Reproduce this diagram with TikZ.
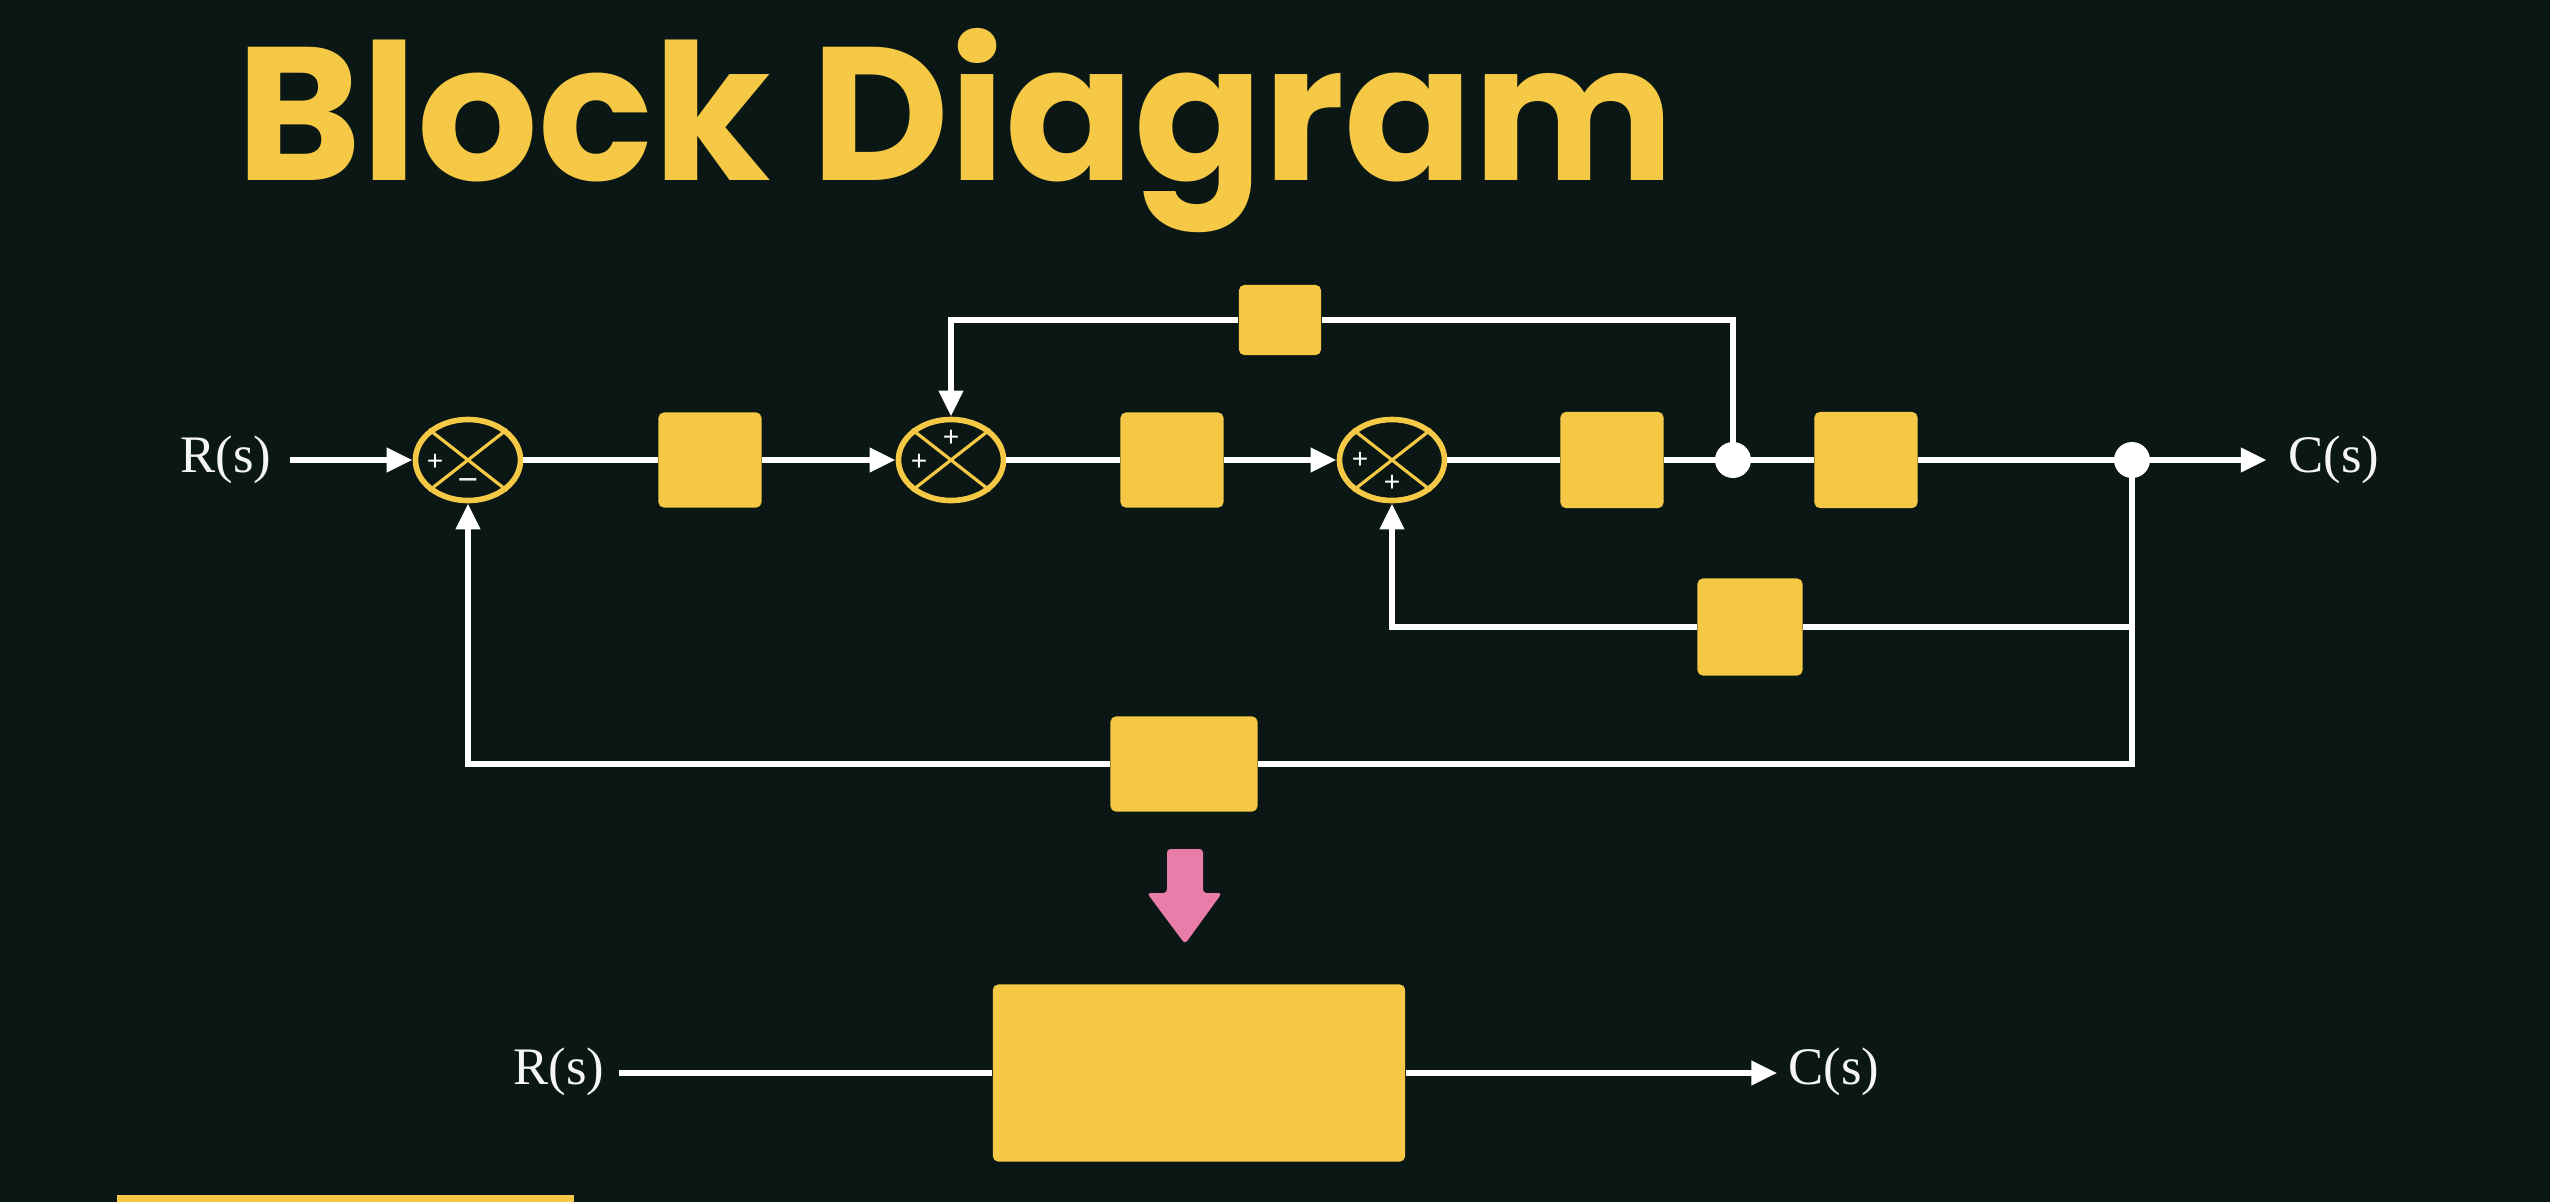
\documentclass[tikz,border=0pt]{standalone}
\usepackage{fontspec}
\setmainfont{Liberation Serif}
\newfontfamily\titlefont{Poppins}
\newfontfamily\signfont{Liberation Sans}
\usetikzlibrary{arrows.meta,shapes.geometric}
\definecolor{bg}{HTML}{0A1714}
\definecolor{yel}{HTML}{F5C945}
\definecolor{pinkar}{HTML}{E97CA8}
\begin{document}
\begin{tikzpicture}[x=0.01cm,y=-0.01cm,
  wire/.style={draw=white,line width=1.9pt},
  arr/.style={wire,-{Triangle[length=0.26cm,width=0.23cm]}},
  blk/.style={fill=yel,draw=none,rounded corners=1.5pt,inner sep=0},
  sumj/.style={ellipse,draw=yel,line width=1.6pt,minimum width=1.05cm,minimum height=0.81cm,inner sep=0},
  xline/.style={draw=yel,line width=0.9pt},
  dotj/.style={circle,fill=white,minimum size=0.36cm,inner sep=0},
  lbl/.style={text=white!92!gray,font=\fontsize{15}{15}\selectfont,inner sep=0},
  sgn/.style={text=white,font=\signfont\fontsize{8}{8}\selectfont,inner sep=0},
  sgnm/.style={text=white!90!gray,font=\signfont\fontsize{10}{10}\selectfont,inner sep=0}]
\fill[bg] (0,0) rectangle (2550,1202);
\useasboundingbox (0,0) rectangle (2550,1202);

% title
\node[anchor=base west,inner sep=0,text=yel,font=\titlefont\bfseries\fontsize{54}{54}\selectfont] (title) at (236,180) {Block Diagram};

% summing junctions
\node[sumj] (s1) at (468,460) {};
\node[sumj] (s2) at (951,460) {};
\node[sumj] (s3) at (1392,460) {};
\foreach \s in {s1,s2,s3}{
  \draw[xline] (\s.north east) -- (\s.south west) (\s.north west) -- (\s.south east);
}
\node[sgn] (p1a) at ([shift={(-33,2)}]s1.center) {+};
\node[sgnm] (m1b) at ([shift={(0,25)}]s1.center) {−};
\node[sgn] (p2a) at ([shift={(0,-22)}]s2.center) {+};
\node[sgn] (p2b) at ([shift={(-32,2)}]s2.center) {+};
\node[sgn] (p3a) at ([shift={(-32,0)}]s3.center) {+};
\node[sgn] (p3b) at ([shift={(0,23)}]s3.center) {+};

% blocks
\node[blk,minimum width=1.03cm,minimum height=0.95cm] (b1) at (710,460) {};
\node[blk,minimum width=1.03cm,minimum height=0.95cm] (b2) at (1172,460) {};
\node[blk,minimum width=1.03cm,minimum height=0.96cm] (b3) at (1612,460) {};
\node[blk,minimum width=1.03cm,minimum height=0.96cm] (b4) at (1866,460) {};
\node[blk,minimum width=0.82cm,minimum height=0.70cm] (tb) at (1280,320) {};
\node[blk,minimum width=1.05cm,minimum height=0.97cm] (mb) at (1750,627) {};
\node[blk,minimum width=1.47cm,minimum height=0.95cm] (bb) at (1184,764) {};

% pick-off points
\node[dotj] (d1) at (1733,460) {};
\node[dotj] (d2) at (2132,460) {};

% labels
\node[lbl,anchor=base west] (R) at (180,472) {R(s)};
\node[lbl,anchor=base west] (C) at (2288,472) {C(s)};

% forward path
\draw[arr] ([xshift=5pt]R.east |- s1.west) -- (s1.west);
\draw[wire] (s1.east) -- (b1.west);
\draw[arr] (b1.east) -- (s2.west);
\draw[wire] (s2.east) -- (b2.west);
\draw[arr] (b2.east) -- (s3.west);
\draw[wire] (s3.east) -- (b3.west);
\draw[wire] (b3.east) -- (d1.center) -- (b4.west);
\draw[wire] (b4.east) -- (d2.center);
\draw[arr] (d2.center) -- ([xshift=-6pt]C.west |- d2.center);

% top feedback
\draw[wire] (d1.center) |- (tb.east);
\draw[arr] (tb.west) -| (s2.north);

% middle feedback
\draw[wire] (d2.center) |- (bb.east);
\draw[wire] (mb.east) -- (mb.east -| d2.center);
\draw[arr] (mb.west) -| (s3.south);

% bottom feedback
\draw[arr] (bb.west) -| (s1.south);

% pink arrow
\fill[pinkar,rounded corners=1pt] (1167,849) -- (1203,849) -- (1203,893) -- (1222,893) -- (1185,944) -- (1147,893) -- (1167,893) -- cycle;

% reduced block
\node[blk,minimum width=4.12cm,minimum height=1.77cm] (G) at (1199,1073) {};
\node[lbl,anchor=base west] (R2) at (513,1084) {R(s)};
\node[lbl,anchor=base west] (C2) at (1788,1084) {C(s)};
\draw[wire] ([xshift=4pt]R2.east |- G.west) -- (G.west);
\draw[arr] (G.east) -- ([xshift=-3pt]C2.west |- G.east);

% bar at bottom
\fill[yel] (117,1195) rectangle (574,1202);
\end{tikzpicture}
\end{document}
